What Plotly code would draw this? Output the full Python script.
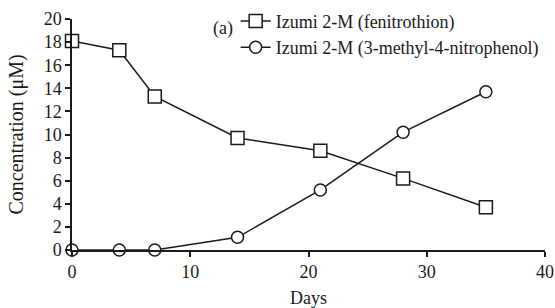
import plotly.graph_objects as go

days = [0, 4, 7, 14, 21, 28, 35]
fenitrothion = [18.1, 17.3, 13.3, 9.7, 8.6, 6.2, 3.7]
nitrophenol = [0.0, 0.0, 0.0, 1.1, 5.2, 10.2, 13.7]
series_names = ["Izumi 2-M (fenitrothion)", "Izumi 2-M (3-methyl-4-nitrophenol)"]
x_ticks = [0, 10, 20, 30, 40]
y_ticks = [0, 2, 4, 6, 8, 10, 12, 14, 16, 18, 20]

FONT = "Liberation Serif"
INK = "#1a1a1a"
FS = 18
W, H = 555, 308
T = 19
PLOT_H = H - T - 58

fig = go.Figure()
fig.add_trace(go.Scatter(
    x=days, y=fenitrothion, name=series_names[0], mode="lines+markers",
    line=dict(color=INK, width=1.5),
    marker=dict(symbol="square", size=13, color="white", line=dict(color=INK, width=1.5)),
    cliponaxis=False,
))
fig.add_trace(go.Scatter(
    x=days, y=nitrophenol, name=series_names[1], mode="lines+markers",
    line=dict(color=INK, width=1.5),
    marker=dict(symbol="circle", size=12, color="white", line=dict(color=INK, width=1.5)),
    cliponaxis=False,
))

axis_common = dict(
    showgrid=False, zeroline=False, showline=True, linecolor=INK, linewidth=1.5,
    ticks="outside", ticklen=5, tickwidth=1.5, tickcolor=INK,
    tickfont=dict(family=FONT, size=FS, color=INK), automargin=False,
)
fig.update_xaxes(range=[0, 40], tickvals=x_ticks,
                 title=dict(text="Days", font=dict(family=FONT, size=FS, color=INK)),
                 **axis_common)
fig.update_yaxes(range=[0, 20], tickvals=y_ticks,
                 title=dict(text="Concentration (μM)", font=dict(family=FONT, size=20, color=INK)),
                 **axis_common)

fig.add_annotation(text="(a)", xref="paper", yref="paper", x=0.344, y=1.0 - 10 / PLOT_H,
                   xanchor="right", yanchor="middle", showarrow=False,
                   font=dict(family=FONT, size=FS, color=INK))

fig.update_layout(
    width=W, height=H,
    margin=dict(l=72, r=10, t=T, b=58, autoexpand=False),
    plot_bgcolor="white", paper_bgcolor="white",
    font=dict(family=FONT, size=FS, color=INK),
    legend=dict(x=0.346, y=1.0 + (T - 2.7) / PLOT_H, xanchor="left", yanchor="top",
                bgcolor="rgba(0,0,0,0)", font=dict(family=FONT, size=FS, color=INK),
                itemwidth=30, tracegroupgap=0),
    showlegend=True,
)

fig.write_html("out.html", config={"displayModeBar": False},
               post_script="document.body.style.margin='0';document.body.style.overflow='hidden';")
